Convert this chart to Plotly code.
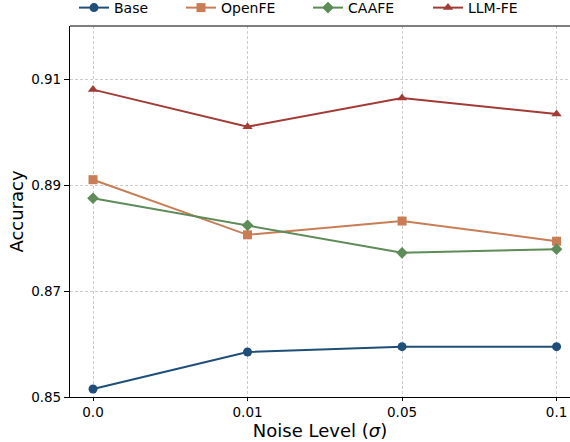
import plotly.graph_objects as go

noise_levels = ["0.0", "0.01", "0.05", "0.1"]
base = [0.8515, 0.8585, 0.8595, 0.8595]
openfe = [0.8910, 0.8806, 0.8832, 0.8794]
caafe = [0.8875, 0.8824, 0.8772, 0.8779]
llmfe = [0.9080, 0.9010, 0.9064, 0.9034]

series = [
    ("Base", base, "#1f4e79", "circle"),
    ("OpenFE", openfe, "#c87d55", "square"),
    ("CAAFE", caafe, "#5e8c58", "diamond"),
    ("LLM-FE", llmfe, "#a23b35", "triangle-up"),
]
legend_ids = ["legend", "legend2", "legend3", "legend4"]
legend_x = [0.008, 0.222, 0.476, 0.716]

xidx = list(range(len(noise_levels)))
fig = go.Figure()
for (name, vals, color, sym), lid in zip(series, legend_ids):
    fig.add_trace(go.Scatter(
        x=xidx, y=vals, name=name, mode="lines+markers",
        line=dict(color=color, width=2),
        marker=dict(symbol=sym, size=9, color=color),
        legend=lid,
    ))

legend_common = dict(orientation="h", y=1.0485, yanchor="middle", xanchor="left",
                     font=dict(size=14), bgcolor="rgba(0,0,0,0)", borderwidth=0)
layout_legends = {}
for lid, lx in zip(legend_ids, legend_x):
    layout_legends[lid] = dict(legend_common, x=lx)

fig.update_layout(
    width=570, height=442,
    margin=dict(l=70, r=0, t=26, b=45, autoexpand=False),
    plot_bgcolor="white", paper_bgcolor="white",
    font=dict(family="DejaVu Sans", color="black"),
    showlegend=True,
    **layout_legends,
)
fig.update_xaxes(
    range=[-0.149, 3.087], tickmode="array", tickvals=xidx, ticktext=noise_levels,
    showgrid=True, gridcolor="#cccccc", griddash="3px,2px", gridwidth=1,
    showline=True, linecolor="black", linewidth=1.2, mirror=False,
    ticks="outside", ticklen=3, tickcolor="black", tickfont=dict(size=13.5),
    title=dict(text="Noise Level (<i>σ</i>)", font=dict(size=18), standoff=2),
    zeroline=False, automargin=False,
)
fig.update_yaxes(
    range=[0.85, 0.92], tickmode="array", tickvals=[0.85, 0.87, 0.89, 0.91],
    ticktext=["0.85", "0.87", "0.89", "0.91"],
    showgrid=True, gridcolor="#cccccc", griddash="3px,2px", gridwidth=1,
    showline=True, linecolor="black", linewidth=1.2,
    ticks="outside", ticklen=5, tickcolor="black", tickfont=dict(size=13.5),
    title=dict(text="Accuracy", font=dict(size=18), standoff=2),
    zeroline=False, automargin=False,
)
# top spine
fig.add_shape(type="line", xref="paper", yref="paper", x0=0, x1=1, y0=1, y1=1,
              line=dict(color="black", width=1.2))

fig.write_html("out.html", config={"displayModeBar": False},
               post_script="document.body.style.margin='0';")
